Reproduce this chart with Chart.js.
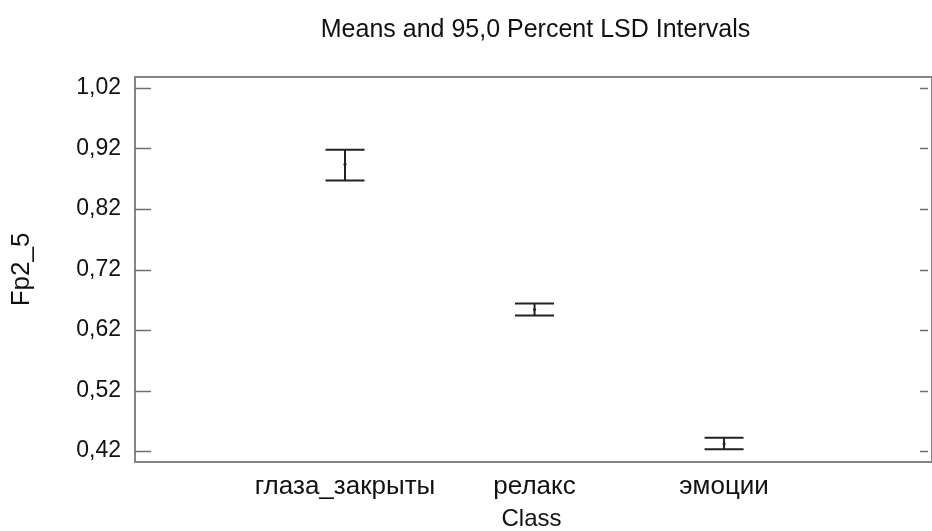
<!DOCTYPE html>
<html>
<head>
<meta charset="utf-8">
<script src="https://cdn.jsdelivr.net/npm/chart.js@4/dist/chart.umd.min.js"></script>
<style>
html,body{margin:0;padding:0;background:#fff;overflow:hidden;}
#wrap{width:932px;height:531px;}
</style>
</head>
<body>
<div id="wrap"><canvas id="c" width="932" height="531"></canvas></div>
<script>
const categories = ['глаза_закрыты', 'релакс', 'эмоции'];
const means = [0.894, 0.654, 0.432];
const lower = [0.867, 0.644, 0.423];
const upper = [0.918, 0.664, 0.442];
const yTickValues = [0.42, 0.52, 0.62, 0.72, 0.82, 0.92, 1.02];
const yTickLabels = ['0,42', '0,52', '0,62', '0,72', '0,82', '0,92', '1,02'];

const FONT = "'Liberation Sans', Arial, sans-serif";

const errorBarPlugin = {
  id: 'lsdBars',
  afterLayout(chart) {
    // center the title over the plot frame
    if (chart.titleBlock) {
      chart.titleBlock.left = chart.chartArea.left;
      chart.titleBlock.right = chart.chartArea.right + 8;
    }
  },
  afterDatasetsDraw(chart) {
    const ctx = chart.ctx;
    const xs = chart.scales.x, ys = chart.scales.y;
    const a = chart.chartArea;
    ctx.save();
    // frame
    ctx.strokeStyle = '#858585';
    ctx.lineWidth = 2;
    ctx.strokeRect(a.left, a.top, a.right - a.left + 4, a.bottom - a.top);
    // inward ticks
    ctx.lineWidth = 1.5;
    ctx.strokeStyle = '#6e6e6e';
    yTickValues.forEach(v => {
      const py = Math.round(ys.getPixelForValue(v)) + 0.5;
      ctx.beginPath(); ctx.moveTo(a.left, py); ctx.lineTo(a.left + 16, py); ctx.stroke();
      ctx.beginPath(); ctx.moveTo(a.right, py); ctx.lineTo(a.right - 8, py); ctx.stroke();
    });
    // error bars
    ctx.strokeStyle = '#222';
    ctx.lineWidth = 2;
    categories.forEach((c, i) => {
      const px = xs.getPixelForValue(i);
      const pt = ys.getPixelForValue(upper[i]);
      const pb = ys.getPixelForValue(lower[i]);
      ctx.beginPath();
      ctx.moveTo(px, pt); ctx.lineTo(px, pb);
      ctx.moveTo(px - 19.5, pt); ctx.lineTo(px + 19.5, pt);
      ctx.moveTo(px - 19.5, pb); ctx.lineTo(px + 19.5, pb);
      ctx.stroke();
    });
    ctx.restore();
  }
};

new Chart(document.getElementById('c'), {
  type: 'scatter',
  data: {
    datasets: [{
      data: means.map((m, i) => ({x: i, y: m})),
      pointRadius: 1.5,
      pointBackgroundColor: '#222',
      pointBorderWidth: 0
    }]
  },
  options: {
    responsive: false,
    animation: false,
    layout: {padding: {top: 0, right: 0, left: 8, bottom: 0}},
    plugins: {
      legend: {display: false},
      tooltip: {enabled: false},
      title: {
        display: true,
        text: 'Means and 95,0 Percent LSD Intervals',
        color: '#111',
        font: {family: FONT, size: 25, weight: 'normal', lineHeight: 1.2},
        padding: {top: 15, bottom: 32}
      }
    },
    scales: {
      x: {
        type: 'linear',
        min: -1.108,
        max: 3.076,
        grid: {display: false, drawTicks: false},
        border: {display: false},
        afterBuildTicks: s => { s.ticks = categories.map((c, i) => ({value: i})); },
        ticks: {
          callback: (v) => categories[v],
          color: '#111',
          font: {family: FONT, size: 26},
          padding: 9,
          maxRotation: 0, autoSkip: false
        },
        title: {
          display: true, text: 'Class', color: '#111',
          font: {family: FONT, size: 24, lineHeight: 1}, padding: {top: 4, bottom: 0}
        },
        afterFit: s => { s.height = 69; }
      },
      y: {
        min: 0.402,
        max: 1.038,
        grid: {display: false, drawTicks: false},
        border: {display: false},
        afterBuildTicks: s => { s.ticks = yTickValues.map(v => ({value: v})); },
        ticks: {
          callback: (v) => yTickLabels[yTickValues.findIndex(t => Math.abs(t - v) < 1e-6)],
          color: '#111',
          font: {family: FONT, size: 23},
          padding: 14,
          autoSkip: false
        },
        title: {
          display: true, text: 'Fp2_5', color: '#111',
          font: {family: FONT, size: 26, lineHeight: 1.1}, padding: {top: 0, bottom: 14}
        },
        afterFit: s => { s.width = 127; }
      }
    }
  },
  plugins: [errorBarPlugin]
});
</script>
</body>
</html>
